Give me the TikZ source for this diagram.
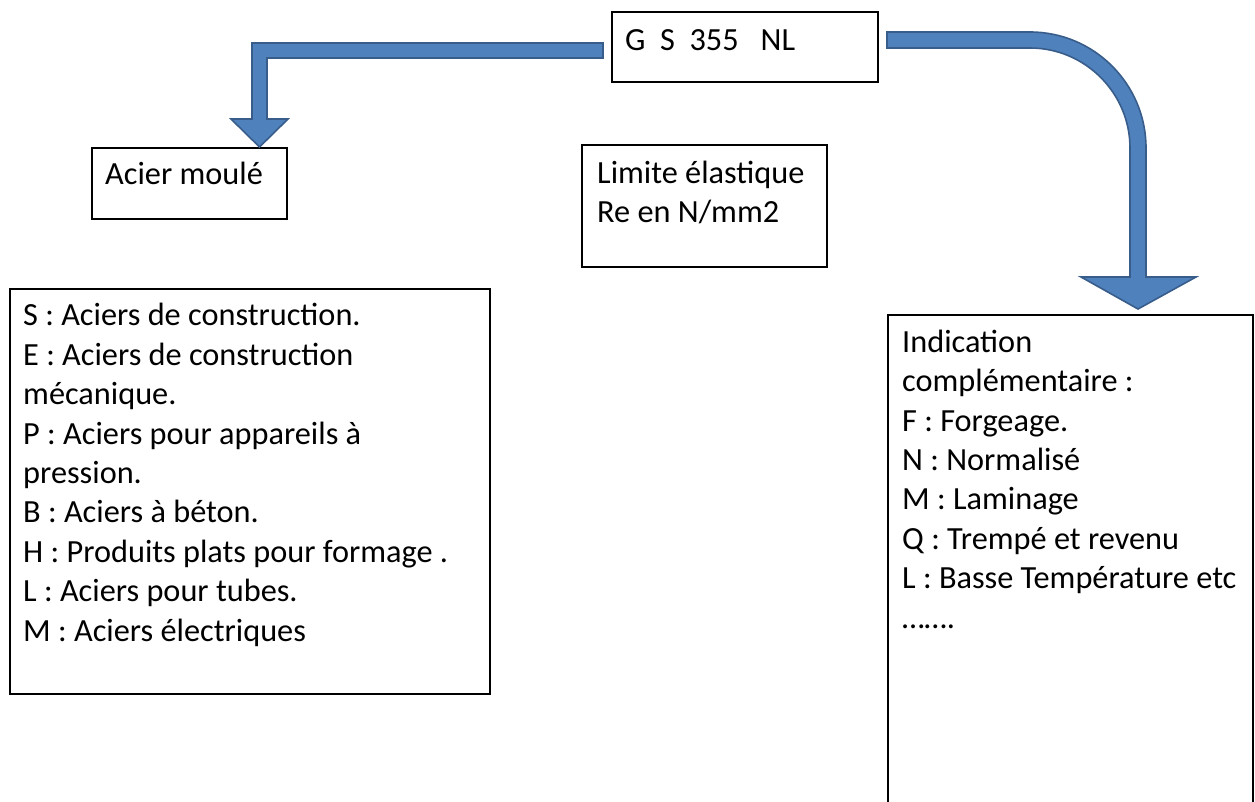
\documentclass[tikz,border=0pt]{standalone}
\usepackage{fontspec}
\setmainfont{Carlito}
\begin{document}
\begin{tikzpicture}[x=1pt,y=-1pt,
  box/.style={draw=black,line width=2.8pt,fill=white},
  txt/.style={anchor=base west,inner sep=0pt,align=left,font=\fontsize{32.3}{39.4}\selectfont},
  blockarrow/.style={fill=arrowblue,draw=arrowedge,line width=1.6pt,line join=miter}]
\definecolor{arrowblue}{HTML}{4F81BD}
\definecolor{arrowedge}{HTML}{385D8A}
\path[use as bounding box,clip] (0,0) rectangle (1255,802);
\fill[white] (0,0) rectangle (1255,802);
% boxes
\draw[box] (612,12) rectangle (878,82);
\node[txt] (gstext) at (625,51) {G\ \ S\ \ 355\ \ \ NL};
\draw[box] (92,148) rectangle (287,219);
\node[txt] (moule) at (105,185) {Acier moulé};
\draw[box] (582,145) rectangle (827,267);
\node[txt] (limite) at (597,223) {Limite élastique\\Re en N/mm2};
\draw[box] (10,289) rectangle (490,694);
\node[txt] (listS) at (23,641) {S : Aciers de construction.\\
E : Aciers de construction\\
mécanique.\\
P : Aciers pour appareils à\\
pression.\\
B : Aciers à béton.\\
H : Produits plats pour formage .\\
L : Aciers pour tubes.\\
M : Aciers électriques};
\draw[box] (888,315) rectangle (1253,840);
\node[txt] (listN) at (902,628) {Indication\\
complémentaire :\\
F : Forgeage.\\
N : Normalisé\\
M : Laminage\\
Q : Trempé et revenu\\
L : Basse Température etc\\
…….};
% left block arrow
\draw[blockarrow] (603,43) -- (252,43) -- (252,119) -- (231,119) -- (259.5,147)
  -- (288,119) -- (267,119) -- (267,58) -- (603,58) -- cycle;
% right block arrow
\draw[blockarrow] (887,32) -- (1030,32) .. controls (1094,32) and (1146,84) .. (1146,148)
  -- (1146,277) -- (1196,277) -- (1138,309) -- (1081,277) -- (1130,277) -- (1130,148)
  .. controls (1130,93) and (1085,48) .. (1030,48) -- (887,48) -- cycle;
\end{tikzpicture}
\end{document}
